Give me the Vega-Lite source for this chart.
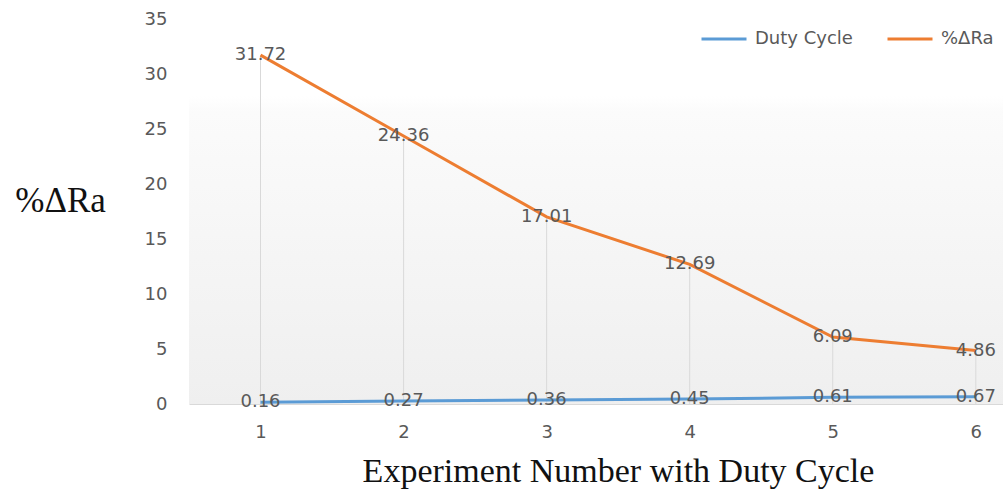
{
  "$schema": "https://vega.github.io/schema/vega-lite/v6.json",
  "width": 814,
  "height": 385,
  "autosize": {"type": "none"},
  "padding": {"left": 189, "top": 19, "right": 0, "bottom": 87},
  "background": "#ffffff",
  "config": {
    "font": "DejaVu Sans",
    "view": {
      "stroke": null,
      "fill": {
        "gradient": "linear",
        "x1": 0, "y1": 0, "x2": 0, "y2": 1,
        "stops": [
          {"offset": 0, "color": "#ffffff"},
          {"offset": 0.2, "color": "#ffffff"},
          {"offset": 0.24, "color": "#fbfbfb"},
          {"offset": 1, "color": "#efefef"}
        ]
      }
    }
  },
  "data": {
    "values": [
      {"exp": 1, "series": "Duty Cycle", "value": 0.16},
      {"exp": 2, "series": "Duty Cycle", "value": 0.27},
      {"exp": 3, "series": "Duty Cycle", "value": 0.36},
      {"exp": 4, "series": "Duty Cycle", "value": 0.45},
      {"exp": 5, "series": "Duty Cycle", "value": 0.61},
      {"exp": 6, "series": "Duty Cycle", "value": 0.67},
      {"exp": 1, "series": "%ΔRa", "value": 31.72},
      {"exp": 2, "series": "%ΔRa", "value": 24.36},
      {"exp": 3, "series": "%ΔRa", "value": 17.01},
      {"exp": 4, "series": "%ΔRa", "value": 12.69},
      {"exp": 5, "series": "%ΔRa", "value": 6.09},
      {"exp": 6, "series": "%ΔRa", "value": 4.86}
    ]
  },
  "encoding": {
    "x": {
      "field": "exp",
      "type": "quantitative",
      "scale": {"domain": [0.5, 6.19], "nice": false, "zero": false},
      "axis": {
        "values": [1, 2, 3, 4, 5, 6],
        "grid": false,
        "ticks": false,
        "domainColor": "#d9d9d9",
        "domainWidth": 1,
        "labelFont": "DejaVu Sans",
        "labelFontSize": 18,
        "labelColor": "#595959",
        "labelPadding": 19,
        "title": "Experiment Number with Duty Cycle",
        "titleFont": "Liberation Serif",
        "titleFontSize": 34,
        "titleFontWeight": "normal",
        "titleColor": "#111111",
        "titleX": 429,
        "titleY": 77,
        "titleAlign": "center",
        "titleBaseline": "alphabetic"
      }
    },
    "y": {
      "field": "value",
      "type": "quantitative",
      "scale": {"domain": [0, 35], "nice": false},
      "axis": {
        "values": [0, 5, 10, 15, 20, 25, 30, 35],
        "grid": false,
        "ticks": false,
        "domain": false,
        "labelFont": "DejaVu Sans",
        "labelFontSize": 18,
        "labelColor": "#595959",
        "labelPadding": 22,
        "title": "%ΔRa",
        "titleFont": "Liberation Serif",
        "titleFontSize": 35,
        "titleFontWeight": "normal",
        "titleColor": "#111111",
        "titleAngle": 0,
        "titleX": -129,
        "titleY": 181,
        "titleAlign": "center",
        "titleBaseline": "middle"
      }
    }
  },
  "layer": [
    {
      "transform": [{"filter": "datum.series === '%ΔRa'"}],
      "mark": {"type": "rule", "color": "#d9d9d9", "strokeWidth": 1},
      "encoding": {"y2": {"datum": 0}}
    },
    {
      "mark": {"type": "line", "strokeWidth": 3},
      "encoding": {
        "color": {
          "field": "series",
          "type": "nominal",
          "scale": {"domain": ["Duty Cycle", "%ΔRa"], "range": ["#5b9bd5", "#ed7d31"]},
          "legend": {
            "title": null,
            "orient": "none",
            "direction": "horizontal",
            "legendX": 511,
            "legendY": -4,
            "symbolType": "stroke",
            "symbolSize": 2025,
            "symbolStrokeWidth": 3,
            "labelFont": "DejaVu Sans",
            "labelFontSize": 18,
            "labelColor": "#595959",
            "labelOffset": 7,
            "columnPadding": 28
          }
        }
      }
    },
    {
      "mark": {"type": "text", "font": "DejaVu Sans", "fontSize": 18, "color": "#595959", "align": "center", "baseline": "middle"},
      "encoding": {"text": {"field": "value", "type": "quantitative", "format": ".2f"}}
    }
  ]
}
